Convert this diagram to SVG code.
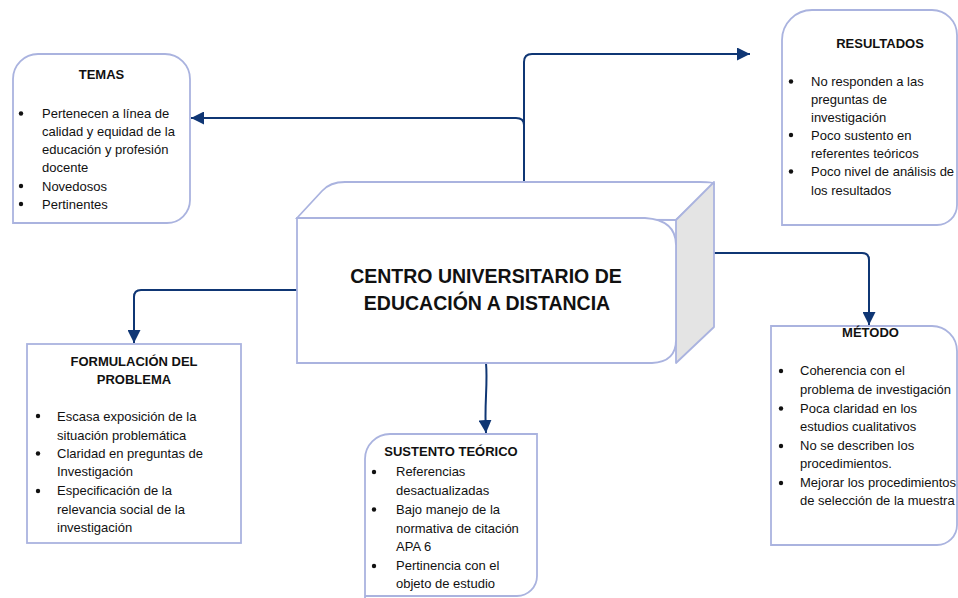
<svg xmlns="http://www.w3.org/2000/svg" width="958" height="598" viewBox="0 0 958 598">
<defs>
<style>
.box{fill:#ffffff;stroke:#aab3df;stroke-width:1.8}
.side{fill:#e4e4e4;stroke:#aab3df;stroke-width:1.8;stroke-linejoin:round}
.con{fill:none;stroke:#0f3674;stroke-width:2}
.t{font-family:"Liberation Sans",Arial,sans-serif;font-size:13px;fill:#111}
.h{font-family:"Liberation Sans",Arial,sans-serif;font-size:13px;font-weight:bold;fill:#111;text-anchor:middle}
.c{font-family:"Liberation Sans",Arial,sans-serif;font-size:19.5px;font-weight:bold;fill:#111;text-anchor:middle}
.b{fill:#111}
</style>
<marker id="arr" viewBox="0 0 10 10" refX="10" refY="5" markerUnits="userSpaceOnUse" markerWidth="13" markerHeight="13" orient="auto">
<path d="M0,0 L10,5 L0,10 Z" fill="#0f3674"/>
</marker>
</defs>
<rect width="958" height="598" fill="#ffffff"/>

<g id="connectors">
<path class="con" d="M524,182 L524,62 Q524,54 532,54 L750,54" marker-end="url(#arr)"/>
<path class="con" d="M524,125 Q524,118 516,118 L191,118" marker-end="url(#arr)"/>
<path class="con" d="M297,290 L141,290 Q134,290 134,297 L134,343" marker-end="url(#arr)"/>
<path class="con" d="M486,363 C488,385 484,405 486,433" marker-end="url(#arr)"/>
<path class="con" d="M714,253 L862,253 Q869,253 869,260 L869,325" marker-end="url(#arr)"/>
</g>

<g id="centro">
<path class="box" d="M297,218 L322,191 Q330,182 345,182 L700,182 Q714,182 714,184 L676,220 Z"/>
<path class="side" d="M676,220 L714,182 L714,327 L676,363 Z"/>
<path class="box" d="M297,218 L645,218 Q676,220 676,245 L676,340 Q676,362 652,363 L297,363 Z"/>
<text class="c" x="486" y="283">CENTRO UNIVERSITARIO DE</text>
<text class="c" x="487" y="310">EDUCACIÓN A DISTANCIA</text>
</g>

<g id="temas">
<path class="box" d="M13,223 L13,79 A25,25 0 0 1 38,54 L165,54 A25,25 0 0 1 190,79 L190,200 A23,23 0 0 1 167,223 Z"/>
<text class="h" x="101.5" y="79">TEMAS</text>
<circle class="b" cx="21" cy="113.5" r="2.2"/>
<circle class="b" cx="21" cy="186" r="2.2"/>
<circle class="b" cx="21" cy="204" r="2.2"/>
<text class="t" x="42" y="118">Pertenecen a línea de</text>
<text class="t" x="42" y="136">calidad y equidad de la</text>
<text class="t" x="42" y="154">educación y profesión</text>
<text class="t" x="42" y="172">docente</text>
<text class="t" x="42" y="190.5">Novedosos</text>
<text class="t" x="42" y="208.5">Pertinentes</text>
</g>

<g id="resultados">
<path class="box" d="M782,225 L782,40 A30,30 0 0 1 812,10 L932,10 A25,25 0 0 1 957,35 L957,205 A20,20 0 0 1 937,225 Z"/>
<text class="h" x="880" y="47.5">RESULTADOS</text>
<circle class="b" cx="791" cy="81.5" r="2.2"/>
<circle class="b" cx="791" cy="135" r="2.2"/>
<circle class="b" cx="791" cy="171.5" r="2.2"/>
<text class="t" x="811" y="86">No responden a las</text>
<text class="t" x="811" y="104">preguntas de</text>
<text class="t" x="811" y="121.5">investigación</text>
<text class="t" x="811" y="139.5">Poco sustento en</text>
<text class="t" x="811" y="158">referentes teóricos</text>
<text class="t" x="811" y="176">Poco nivel de análisis de</text>
<text class="t" x="811" y="194.5">los resultados</text>
</g>

<g id="formulacion">
<rect class="box" x="27" y="344" width="214" height="199"/>
<text class="h" x="134" y="366">FORMULACIÓN DEL</text>
<text class="h" x="134" y="384">PROBLEMA</text>
<circle class="b" cx="38" cy="416" r="2.2"/>
<circle class="b" cx="38" cy="453.5" r="2.2"/>
<circle class="b" cx="38" cy="491" r="2.2"/>
<text class="t" x="57" y="420.5">Escasa exposición de la</text>
<text class="t" x="57" y="439.5">situación problemática</text>
<text class="t" x="57" y="458">Claridad en preguntas de</text>
<text class="t" x="57" y="476">Investigación</text>
<text class="t" x="57" y="495">Especificación de la</text>
<text class="t" x="57" y="514">relevancia social de la</text>
<text class="t" x="57" y="532">investigación</text>
</g>

<g id="sustento">
<path class="box" d="M365,598 L365,459 A25,25 0 0 1 390,434 L537,434 L537,576 A20,20 0 0 1 517,596 L365,596"/>
<text class="h" x="451" y="456">SUSTENTO TEÓRICO</text>
<circle class="b" cx="374" cy="472" r="2.2"/>
<circle class="b" cx="374" cy="509.5" r="2.2"/>
<circle class="b" cx="374" cy="566" r="2.2"/>
<text class="t" x="396" y="476">Referencias</text>
<text class="t" x="396" y="494.5">desactualizadas</text>
<text class="t" x="396" y="514">Bajo manejo de la</text>
<text class="t" x="396" y="533">normativa de citación</text>
<text class="t" x="396" y="551">APA 6</text>
<text class="t" x="396" y="570">Pertinencia con el</text>
<text class="t" x="396" y="588">objeto de estudio</text>
</g>

<g id="metodo">
<path class="box" d="M771,545 L771,326 L932,326 A25,25 0 0 1 957,351 L957,525 A20,20 0 0 1 937,545 Z"/>
<text class="h" x="870.5" y="337">MÉTODO</text>
<circle class="b" cx="781" cy="371" r="2.2"/>
<circle class="b" cx="781" cy="408.5" r="2.2"/>
<circle class="b" cx="781" cy="446" r="2.2"/>
<circle class="b" cx="781" cy="483" r="2.2"/>
<text class="t" x="800" y="375"> Coherencia con el</text>
<text class="t" x="800" y="394">problema de investigación</text>
<text class="t" x="800" y="413">Poca claridad en los</text>
<text class="t" x="800" y="431">estudios cualitativos</text>
<text class="t" x="800" y="450">No se describen los</text>
<text class="t" x="800" y="468">procedimientos.</text>
<text class="t" x="800" y="487">Mejorar los procedimientos</text>
<text class="t" x="800" y="505">de selección de la muestra</text>
</g>
</svg>
